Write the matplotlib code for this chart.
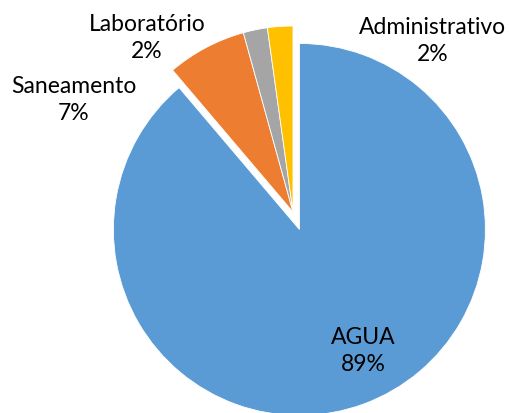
import matplotlib
matplotlib.use("Agg")
import matplotlib.pyplot as plt

# budget split by sector
sectors = ["AGUA", "Saneamento", "Laboratório", "Administrativo"]
shares = [88.8, 6.9, 2.1, 2.2]
colors = ["#5B9BD5", "#ED7D31", "#A5A5A5", "#FFC000"]
pull_out = [0.1, 0, 0, 0]

W, H = 509, 414
R = 186
fig = plt.figure(figsize=(W / 100, H / 100), dpi=100)
ax = fig.add_axes([0, 0, 1, 1])

# explode is in data units here, so scale by the radius
ax.pie(shares, colors=colors, explode=[p * R for p in pull_out],
       startangle=90, counterclock=False,
       center=(293, H - 213), radius=R,
       wedgeprops=dict(edgecolor="white", linewidth=0.6))

# pie() resets the limits, so pin the pixel frame afterwards
ax.set_xlim(0, W)
ax.set_ylim(0, H)
ax.set_aspect("equal")
ax.axis("off")

# label positions (pixels from top-left)
label_pos = {
    "AGUA": (363, 351),
    "Saneamento": (74, 100),
    "Laboratório": (147, 38),
    "Administrativo": (433, 41),
}
for name, val in zip(sectors, shares):
    x, y = label_pos[name]
    ax.text(x, H - y, f"{name}\n{val:.0f}%", ha="center", va="center",
            fontsize=16.5, family="Lato", linespacing=1.4, color="#000000")

fig.savefig("out.png", dpi=100)
